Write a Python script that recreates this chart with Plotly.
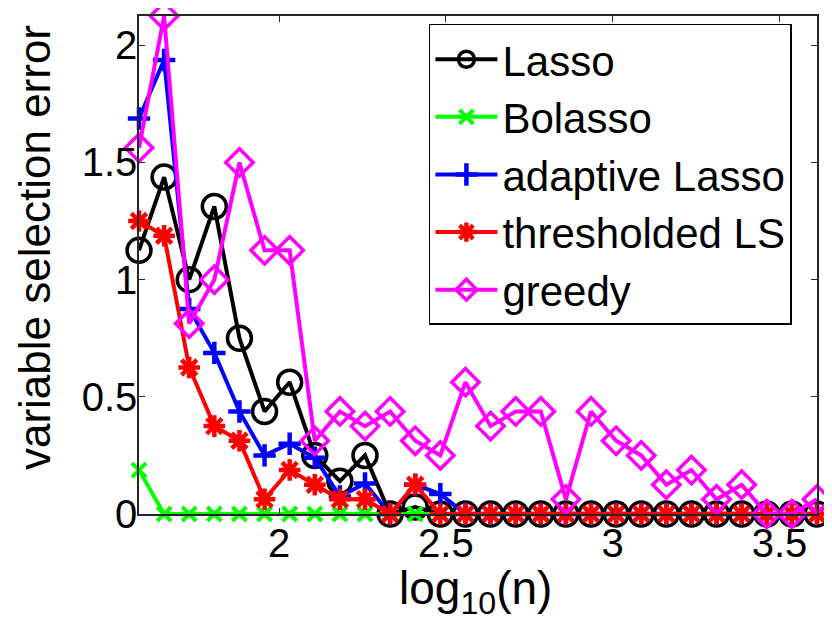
import numpy as np
import plotly.graph_objects as go

# x positions: log10(n) for n = 2^(k/4), k = 21..48
k_values = list(range(21, 49))
log_n = [np.log10(2 ** (k / 4)) for k in k_values]

lasso = [1.125, 1.4375, 1.0, 1.3125, 0.75, 0.4375, 0.5625, 0.25, 0.14, 0.25, 0.0, 0.03,
         0, 0, 0, 0, 0, 0, 0, 0, 0, 0, 0, 0, 0, 0, 0, 0]
bolasso = [0.1875, 0, 0, 0, 0, 0, 0, 0, 0, 0, 0, 0,
           0, 0, 0, 0, 0, 0, 0, 0, 0, 0, 0, 0, 0, 0, 0, 0]
adaptive = [1.6875, 1.9375, 0.875, 0.6875, 0.4375, 0.25, 0.30, 0.24, 0.075, 0.13, 0.0, 0.125,
            0.085, 0, 0, 0, 0, 0, 0, 0, 0, 0, 0, 0, 0, 0, 0, 0]
thresholded = [1.25, 1.1875, 0.625, 0.375, 0.3125, 0.0625, 0.1875, 0.125, 0.0625, 0.0625, 0.0, 0.125,
               0, 0, 0, 0, 0, 0, 0, 0, 0, 0, 0, 0, 0, 0, 0, 0]
greedy = [1.5625, 2.125, 0.8125, 1.0, 1.5, 1.125, 1.125, 0.3125, 0.4375, 0.375, 0.4375, 0.3125,
          0.25, 0.5625, 0.375, 0.4375, 0.4375, 0.0625, 0.4375, 0.3125, 0.25, 0.125, 0.1875, 0.0625,
          0.125, 0.0, 0.0, 0.0625]

x_ticks = [2, 2.5, 3, 3.5]
x_tick_labels = ["2", "2.5", "3", "3.5"]
y_ticks = [0, 0.5, 1, 1.5, 2]
y_tick_labels = ["0", "0.5", "1", "1.5", "2"]

FONT = "Liberation Sans, Arial, Helvetica, sans-serif"

fig = go.Figure()
series = [
    ("Lasso", lasso, "#000000", "circle-open", 24, 3.5),
    ("Bolasso", bolasso, "#00ff00", "x-thin-open", 14, 4),
    ("adaptive Lasso", adaptive, "#0000ff", "cross-thin-open", 16, 4.5),
    ("thresholded LS", thresholded, "#ff0000", "asterisk-open", 18, 4.5),
    ("greedy", greedy, "#ff00ff", "diamond-open", 21, 3.5),
]
for name, ys, color, sym, size, lw in series:
    fig.add_trace(go.Scatter(
        x=log_n, y=ys, name=name, mode="lines+markers",
        line=dict(color=color, width=4),
        marker=dict(symbol=sym, size=size, color=color, line=dict(color=color, width=lw)),
        cliponaxis=False,
    ))

axis_common = dict(
    showgrid=False, zeroline=False, showline=True, mirror="ticks",
    linecolor="#262626", linewidth=1.5, ticks="inside", ticklen=6,
    tickcolor="#262626", tickwidth=1,
    tickfont=dict(family=FONT, size=40, color="#000000"),
)

# page body has an 8px margin; figure sized so plot area lands at 139..817 x 14..514
fig.update_layout(
    width=824, height=612,
    margin=dict(l=131, r=15, t=6, b=106),
    paper_bgcolor="white", plot_bgcolor="white",
    xaxis=dict(range=[log_n[0], log_n[-1]], tickvals=x_ticks, ticktext=x_tick_labels,
               ticklabelstandoff=-7, **axis_common),
    yaxis=dict(range=[0, 2.125], tickvals=y_ticks, ticktext=y_tick_labels,
               ticklabelstandoff=-8, **axis_common),
    legend=dict(
        x=0.963, y=0.984, xanchor="right", yanchor="top",
        bgcolor="white", bordercolor="#000000", borderwidth=1.5,
        font=dict(family=FONT, size=42, color="#000000"),
        itemwidth=62, tracegroupgap=0,
    ),
    showlegend=True,
    annotations=[
        dict(text="variable selection error", xref="paper", yref="paper",
             x=(34 - 139) / 678, y=(514 - 247) / 500, xanchor="center", yanchor="middle",
             textangle=-90, showarrow=False,
             font=dict(family=FONT, size=44, color="#000000")),
        dict(text="log<sub>10</sub>(n)", xref="paper", yref="paper",
             x=(475 - 139) / 678, y=(514 - 560) / 500, xanchor="center", yanchor="top",
             showarrow=False,
             font=dict(family=FONT, size=46, color="#000000")),
    ],
)

fig.write_html("out.html")
